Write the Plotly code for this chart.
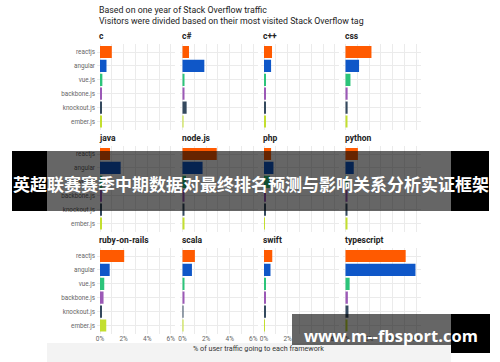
import plotly.graph_objects as go

categories = ["reactjs", "angular", "vue.js", "backbone.js", "knockout.js", "ember.js"]
tags = ["c", "c#", "c++", "css", "java", "node.js", "php", "python",
        "ruby-on-rails", "scala", "swift", "typescript"]
values = {
    "c":             [1.00, 0.55, 0.20, 0.10, 0.10, 0.10],
    "c#":            [0.55, 1.85, 0.15, 0.10, 0.35, 0.05],
    "c++":           [0.68, 0.60, 0.15, 0.10, 0.12, 0.10],
    "css":           [2.20, 1.15, 0.42, 0.18, 0.18, 0.15],
    "java":          [0.85, 1.75, 0.20, 0.10, 0.10, 0.10],
    "node.js":       [2.90, 1.70, 0.30, 0.12, 0.10, 0.10],
    "php":           [0.60, 0.80, 0.50, 0.10, 0.10, 0.05],
    "python":        [1.05, 0.70, 0.20, 0.10, 0.10, 0.10],
    "ruby-on-rails": [2.05, 0.82, 0.36, 0.30, 0.10, 0.53],
    "scala":         [1.05, 0.80, 0.15, 0.12, 0.05, 0.05],
    "swift":         [0.70, 0.55, 0.10, 0.10, 0.10, 0.05],
    "typescript":    [5.10, 5.93, 0.35, 0.20, 0.25, 0.10],
}
colors = ["#ff5a00", "#0f57c8", "#2cc47a", "#9b59b6", "#34495e", "#c3df2f"]
x_ticks = [0, 2, 4, 6]
x_tick_labels = ["0%", "2%", "4%", "6%"]
title_lines = ["Based on one year of Stack Overflow traffic",
               "Visitors were divided based on their most visited Stack Overflow tag"]
x_title = "% of user traffic going to each framework"
banner_text = "英超联赛赛季中期数据对最终排名预测与影响关系分析实证框架"
watermark_text = "www.m--fbsport.com"

W, H = 500, 362
def px(x): return x / W
def py(y): return 1 - y / H

col_zero = [100, 182.5, 264, 345.5]
row_first = [52, 154, 256]
ppp = 11.8      # pixels per percent
step = 13.9     # pixels per category

fig = go.Figure()
annotations = []
FONT = "Roboto"
GRID = "#ebebeb"

for i, tag in enumerate(tags):
    r, c = divmod(i, 4)
    n = i + 1
    xa = "x" if n == 1 else f"x{n}"
    ya = "y" if n == 1 else f"y{n}"
    fig.add_trace(go.Bar(
        x=values[tag], y=list(range(len(categories))), orientation="h",
        marker=dict(color=colors, line=dict(width=0)), width=0.88,
        xaxis=xa, yaxis=ya, showlegend=False, hoverinfo="skip"))
    x0 = col_zero[c] - 3
    x1 = col_zero[c] + 75
    yc = row_first[r]
    y_top = yc - 0.6 * step
    y_bot = yc + 5.6 * step
    xkey = "xaxis" if n == 1 else f"xaxis{n}"
    ykey = "yaxis" if n == 1 else f"yaxis{n}"
    fig.layout[xkey] = dict(
        domain=[px(x0), px(x1)], anchor=ya,
        range=[-3 / ppp, 75 / ppp], tickvals=x_ticks, ticktext=x_tick_labels,
        showticklabels=(r == 2), ticks="", showgrid=True, gridcolor=GRID, gridwidth=1,
        minor=dict(dtick=1, tick0=0, showgrid=True, gridcolor=GRID, gridwidth=1),
        zeroline=False, showline=False,
        tickfont=dict(family=FONT, size=6.5, color="#666666"), fixedrange=True)
    fig.layout[ykey] = dict(
        domain=[py(y_bot), py(y_top)], anchor=xa,
        range=[5.6, -0.6], tickvals=list(range(len(categories))), ticktext=categories,
        showticklabels=(c == 0), ticks="", showgrid=True, gridcolor=GRID, gridwidth=1,
        zeroline=False, showline=False, ticklabelstandoff=1,
        tickfont=dict(family=FONT, size=6.3, color="#666666"), fixedrange=True)
    annotations.append(dict(
        text=f"<b>{tag}</b>", x=px(x0), y=py(yc - 16), xref="paper", yref="paper",
        xanchor="left", yanchor="middle", showarrow=False,
        font=dict(family=FONT, size=8.5, color="#222222")))

for k, line in enumerate(title_lines):
    annotations.append(dict(
        text=line, x=px(97), y=py(10 + 11 * k), xref="paper", yref="paper",
        xanchor="left", yanchor="middle", showarrow=False,
        font=dict(family=FONT, size=8.8, color="#222222")))

annotations.append(dict(
    text=x_title, x=px(258.5), y=py(348), xref="paper", yref="paper",
    xanchor="center", yanchor="middle", showarrow=False,
    font=dict(family=FONT, size=7.2, color="#333333")))

annotations.append(dict(
    text=f"<b>{banner_text}</b>", x=px(250.5), y=py(183), xref="paper", yref="paper",
    xanchor="center", yanchor="middle", showarrow=False,
    font=dict(family="Noto Sans CJK SC", size=17, color="white")))

annotations.append(dict(
    text=f"<b>{watermark_text}</b>", x=px(391), y=py(335), xref="paper", yref="paper",
    xanchor="center", yanchor="middle", showarrow=False,
    font=dict(family="Open Sans", size=16.5, color="white")))

def rect(x0, y0, x1, y1, fill, layer="above"):
    return dict(type="rect", xref="paper", yref="paper",
                x0=px(x0), x1=px(x1), y0=py(y1), y1=py(y0),
                fillcolor=fill, line=dict(width=0), layer=layer)

shapes = [
    rect(47, 343, 451, 362, "#f3f3f3", layer="below"),
    rect(12, 151, 47, 211, "black"),
    rect(47, 151, 451, 211, "rgba(0,0,0,0.6)"),
    rect(451, 151, 489, 211, "black"),
    rect(292, 314, 451, 345, "rgba(0,0,0,0.6)"),
    rect(451, 314, 490, 353, "black"),
]

fig.update_layout(
    width=W, height=H, autosize=False,
    margin=dict(l=0, r=0, t=0, b=0),
    paper_bgcolor="white", plot_bgcolor="white",
    annotations=annotations, shapes=shapes, bargap=0.1,
)

fig.write_html("out.html", config={"displayModeBar": False})
